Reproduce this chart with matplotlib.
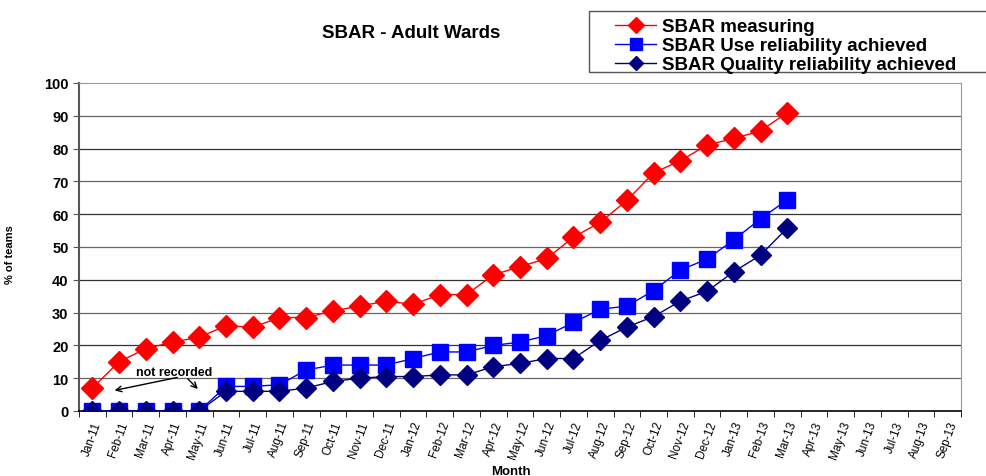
import numpy as np
import matplotlib
matplotlib.use("Agg")
import matplotlib.pyplot as plt
from matplotlib.patches import Rectangle

plt.rcParams['font.family'] = ['Liberation Sans', 'DejaVu Sans']

months = ['Jan-11', 'Feb-11', 'Mar-11', 'Apr-11', 'May-11', 'Jun-11', 'Jul-11', 'Aug-11',
          'Sep-11', 'Oct-11', 'Nov-11', 'Dec-11', 'Jan-12', 'Feb-12', 'Mar-12', 'Apr-12',
          'May-12', 'Jun-12', 'Jul-12', 'Aug-12', 'Sep-12', 'Oct-12', 'Nov-12', 'Dec-12',
          'Jan-13', 'Feb-13', 'Mar-13', 'Apr-13', 'May-13', 'Jun-13', 'Jul-13', 'Aug-13',
          'Sep-13']

measuring = [7, 15, 19, 21, 22.5, 26, 25.5, 28.5, 28.5, 30.5, 32, 33.5, 32.5, 35.5, 35.5,
             41.5, 44, 46.5, 53, 57.5, 64.2, 72.6, 76.3, 81.1, 83.1, 85.4, 91]
use_rel = [0, 0, 0, 0, 0, 7.5, 7.5, 8, 12.5, 14, 14, 14, 16, 18, 18, 20, 21, 23, 27, 31,
           32, 36.7, 43, 46.3, 52.2, 58.6, 64.4]
quality_rel = [0, 0, 0, 0, 0, 6, 6, 6, 7, 9, 10, 10.5, 10.5, 11, 11, 13.5, 14.5, 16, 16,
               21.5, 25.6, 28.8, 33.5, 36.5, 42.5, 47.5, 55.8]

fig = plt.figure(figsize=(9.87, 4.77), dpi=100)
ax = fig.add_axes([0.080, 0.1363, 0.8937, 0.6876])

x = np.arange(len(measuring))
ax.plot(x, measuring, color='#FF0000', lw=1, marker='D', ms=11, mec='#FF0000',
        label='SBAR measuring', zorder=3)
ax.plot(x, use_rel, color='#0000FF', lw=1, marker='s', ms=12, mec='#0000FF',
        label='SBAR Use reliability achieved', zorder=3)
ax.plot(x, quality_rel, color='#000080', lw=1, marker='D', ms=10.5, mec='#000080',
        label='SBAR Quality reliability achieved', zorder=4)

ax.set_xlim(-0.5, len(months) - 0.5)
ax.set_ylim(0, 100)
ax.set_yticks(range(0, 101, 10))
ax.set_yticklabels([str(v) for v in range(0, 101, 10)], fontsize=10.5, fontweight='bold')
ax.set_xticks(np.arange(len(months)))
ax.set_xticklabels(months, rotation=70, ha='right', rotation_mode='anchor', fontsize=8.5)
ax.tick_params(axis='x', which='major', length=0, pad=6)
ax.set_xticks(np.arange(len(months) + 1) - 0.5, minor=True)
ax.tick_params(axis='x', which='minor', length=4, color='black')
ax.tick_params(axis='y', length=4, color='#555555')

for v in range(10, 100, 10):
    ax.axhline(v, color='#333333' if v % 20 == 0 else '#666666', lw=0.9, zorder=1)

ax.spines['top'].set_color('#999999')
ax.spines['right'].set_color('#999999')
ax.spines['left'].set_color('#555555')
ax.spines['bottom'].set_color('black')
ax.spines['left'].set_linewidth(1.5)
ax.spines['bottom'].set_linewidth(1.2)

ax.set_ylabel('% of teams', fontsize=8, fontweight='bold')
ax.yaxis.set_label_coords(-0.072, 0.48)
ax.set_xlabel('Month', fontsize=9.5, fontweight='bold')
ax.xaxis.set_label_coords(0.49, -0.165)

fig.text(0.417, 0.93, 'SBAR - Adult Wards', fontsize=13.5, fontweight='bold', ha='center',
         va='center')

ax.annotate('', xy=(0.73, 6.1), xytext=(3.28, 10.4),
            arrowprops=dict(arrowstyle='->', color='black', lw=1))
ax.annotate('', xy=(4.02, 6.1), xytext=(3.5, 10.4),
            arrowprops=dict(arrowstyle='->', color='black', lw=1))
ax.text(3.05, 11.9, 'not recorded', fontsize=9, fontweight='bold', ha='center', va='center')

# legend box drawn separately so it runs off the right edge like the original
fig.patches.append(Rectangle((589 / 987, 1 - 73 / 477), 0.45, 61 / 477,
                             transform=fig.transFigure, facecolor='white',
                             edgecolor='#555555', lw=1, zorder=0))
leg = fig.legend(loc='upper left', bbox_to_anchor=(604 / 987, 1 - 8 / 477),
                 prop={'weight': 'bold', 'size': 13.5}, frameon=False,
                 borderpad=0.1, labelspacing=0.1, handlelength=2.2, handletextpad=0.3,
                 markerscale=0.7)

fig.savefig('out.png', dpi=100)
